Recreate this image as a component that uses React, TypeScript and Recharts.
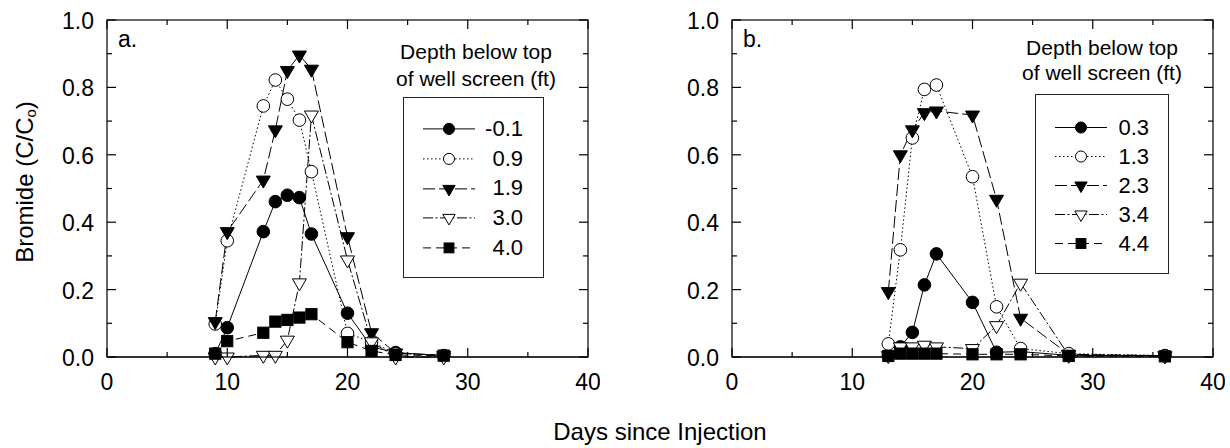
import React from "react";
import { LineChart, Line, XAxis, YAxis, ReferenceLine } from "recharts";

const FONT = '"Liberation Sans", Arial, Helvetica, sans-serif';

// sampling days for each well
const daysA = [9, 10, 13, 14, 15, 16, 17, 20, 22, 24, 28];
const daysB = [13, 14, 15, 16, 17, 20, 22, 24, 28, 36];

// depth below top of well screen (ft)
const depthsA = ["-0.1", "0.9", "1.9", "3.0", "4.0"];
const depthsB = ["0.3", "1.3", "2.3", "3.4", "4.4"];

// bromide C/Co, well a
const a1 = [0.01, 0.087, 0.372, 0.461, 0.48, 0.473, 0.365, 0.13, 0.03, 0.013, 0.004];
const a2 = [0.098, 0.345, 0.745, 0.822, 0.765, 0.703, 0.55, 0.07, 0.045, 0.01, 0.004];
const a3 = [0.105, 0.372, 0.525, 0.674, 0.85, 0.896, 0.854, 0.357, 0.072, 0.012, 0.005];
const a4 = [0.0, 0.0, 0.005, 0.005, 0.05, 0.22, 0.718, 0.288, 0.045, 0.0, 0.0];
const a5 = [0.01, 0.047, 0.072, 0.105, 0.11, 0.117, 0.127, 0.044, 0.018, 0.006, 0.004];

// bromide C/Co, well b
const b1 = [0.005, 0.03, 0.073, 0.214, 0.306, 0.162, 0.014, 0.016, 0.005, 0.004];
const b2 = [0.039, 0.318, 0.65, 0.794, 0.807, 0.535, 0.149, 0.025, 0.01, 0.004];
const b3 = [0.194, 0.6, 0.674, 0.725, 0.73, 0.718, 0.468, 0.115, 0.008, 0.004];
const b4 = [0.004, 0.03, 0.03, 0.035, 0.03, 0.025, 0.093, 0.219, 0.005, 0.003];
const b5 = [0.003, 0.01, 0.01, 0.01, 0.01, 0.008, 0.008, 0.008, 0.003, 0.002];

const xTicks = [0, 5, 10, 15, 20, 25, 30, 35, 40];
const yTicks = [0, 0.1, 0.2, 0.3, 0.4, 0.5, 0.6, 0.7, 0.8, 0.9, 1.0];

const X_MAX = 40;
const Y_MAX = 1;

// plot box geometry shared by the chart margins and the frame overlay
const TOP = 20;
const RIGHT = 12;
const BOTTOM = 90;
const CHART_H = 448;
const PLOT_H = CHART_H - TOP - BOTTOM - 1;
const MAJOR_PX = 9;
const MINOR_PX = 5;

type Mark = "circle" | "openCircle" | "triangle" | "openTriangle" | "square";

const seriesStyles: { mark: Mark; dash?: string }[] = [
  { mark: "circle" },
  { mark: "openCircle", dash: "1.5 2.5" },
  { mark: "triangle", dash: "12 4" },
  { mark: "openTriangle", dash: "10 2.5 2 2.5" },
  { mark: "square", dash: "8 5" },
];

function Marker({ mark, cx, cy, size = 1 }: { mark: Mark; cx: number; cy: number; size?: number }) {
  const open = mark === "openCircle" || mark === "openTriangle";
  const fill = open ? "#fff" : "#000";
  if (mark === "circle" || mark === "openCircle") {
    return <circle cx={cx} cy={cy} r={6.3 * size} fill={fill} stroke="#000" strokeWidth={1} />;
  }
  if (mark === "square") {
    const s = 5.6 * size;
    return <rect x={cx - s} y={cy - s} width={2 * s} height={2 * s} fill="#000" stroke="#000" />;
  }
  const w = 7 * size;
  const h = 12 * size;
  const pts = `${cx - w},${cy - h / 3} ${cx + w},${cy - h / 3} ${cx},${cy + (2 * h) / 3}`;
  return <polygon points={pts} fill={fill} stroke="#000" strokeWidth={1} />;
}

const isMajorX = (v: number) => v % 10 === 0;
const isMajorY = (v: number) => Math.round(v * 10) % 2 === 0;

const BottomLabel = (p: any) => {
  const v = p.payload.value;
  if (!isMajorX(v)) return <g />;
  return (
    <text x={p.x} y={p.y + 33} textAnchor="middle" fontSize={23} fontFamily={FONT} fill="#000">
      {v}
    </text>
  );
};

const LeftLabel = (p: any) => {
  const v = p.payload.value;
  if (!isMajorY(v)) return <g />;
  return (
    <text x={p.x - 13} y={p.y + 9} textAnchor="end" fontSize={23} fontFamily={FONT} fill="#000">
      {v.toFixed(1)}
    </text>
  );
};

// box around the plot with inward ticks on all four sides
function Frame({ left, width }: { left: number; width: number }) {
  const plotW = width - left - RIGHT;
  const px = (v: number) => left + (v / X_MAX) * plotW;
  const py = (v: number) => TOP + PLOT_H - (v / Y_MAX) * PLOT_H;
  const bottom = TOP + PLOT_H;
  const right = left + plotW;
  return (
    <svg
      width={width}
      height={CHART_H}
      style={{ position: "absolute", left: 0, top: 0, pointerEvents: "none" }}
    >
      <rect x={left} y={TOP} width={plotW} height={PLOT_H} fill="none" stroke="#000" strokeWidth={1.2} />
      {xTicks.map((t) => {
        const len = isMajorX(t) ? MAJOR_PX : MINOR_PX;
        return (
          <g key={`x${t}`}>
            <line x1={px(t)} x2={px(t)} y1={bottom} y2={bottom - len} stroke="#000" strokeWidth={1.2} />
            <line x1={px(t)} x2={px(t)} y1={TOP} y2={TOP + len} stroke="#000" strokeWidth={1.2} />
          </g>
        );
      })}
      {yTicks.map((t) => {
        const len = isMajorY(t) ? MAJOR_PX : MINOR_PX;
        return (
          <g key={`y${t}`}>
            <line x1={left} x2={left + len} y1={py(t)} y2={py(t)} stroke="#000" strokeWidth={1.2} />
            <line x1={right} x2={right - len} y1={py(t)} y2={py(t)} stroke="#000" strokeWidth={1.2} />
          </g>
        );
      })}
    </svg>
  );
}

interface BoxLayout {
  left: number;
  top: number;
  lineHeight: number;
  boxLeft: number;
  boxTop: number;
  boxWidth: number;
  boxHeight: number;
  padTop: number;
  rowHeight: number;
  textWidth: number;
}

function DepthLegend({ names, box }: { names: string[]; box: BoxLayout }) {
  return (
    <div style={{ fontFamily: FONT, color: "#000", width: 192 }}>
      <div style={{ textAlign: "center", fontSize: 21, lineHeight: `${box.lineHeight}px` }}>
        Depth below top
        <br />
        of well screen (ft)
      </div>
      <div
        style={{
          marginTop: box.boxTop,
          marginLeft: box.boxLeft,
          width: box.boxWidth,
          height: box.boxHeight,
          border: "1px solid #222",
          boxSizing: "border-box",
          paddingTop: box.padTop,
        }}
      >
        {names.map((name, k) => {
          const st = seriesStyles[k];
          return (
            <div key={name} style={{ display: "flex", alignItems: "center", height: box.rowHeight }}>
              <svg width={75} height={box.rowHeight} style={{ display: "block" }}>
                <line
                  x1={19}
                  x2={71}
                  y1={box.rowHeight / 2}
                  y2={box.rowHeight / 2}
                  stroke="#000"
                  strokeDasharray={st.dash}
                />
                <Marker mark={st.mark} cx={45} cy={box.rowHeight / 2} size={0.88} />
              </svg>
              <span style={{ width: box.textWidth, textAlign: "right", fontSize: 22 }}>{name}</span>
            </div>
          );
        })}
      </div>
    </div>
  );
}

interface PanelProps {
  days: number[];
  depths: string[];
  values: number[][];
  tag: string;
  left: number;
  width: number;
  axisWidth: number;
  box: BoxLayout;
}

function Panel({ days, depths, values, tag, left, width, axisWidth, box }: PanelProps) {
  const rows = days.map((d, i) => {
    const r: Record<string, number> = { day: d };
    values.forEach((v, k) => {
      r[`s${k}`] = v[i];
    });
    return r;
  });

  return (
    <div style={{ position: "absolute", left, top: 0 }}>
      <LineChart
        width={width}
        height={CHART_H}
        data={rows}
        margin={{ top: TOP, right: RIGHT, bottom: BOTTOM, left: 0 }}
      >
        <XAxis
          xAxisId="x"
          dataKey="day"
          type="number"
          domain={[0, X_MAX]}
          ticks={xTicks}
          interval={0}
          height={1}
          tickSize={0}
          tickMargin={0}
          tickLine={false}
          axisLine={false}
          tick={(p: any) => <BottomLabel {...p} />}
        />
        <YAxis
          yAxisId="y"
          type="number"
          domain={[0, Y_MAX]}
          ticks={yTicks}
          interval={0}
          width={axisWidth}
          tickSize={0}
          tickMargin={0}
          tickLine={false}
          axisLine={false}
          tick={(p: any) => <LeftLabel {...p} />}
        />
        <ReferenceLine xAxisId="x" yAxisId="y" y={0} stroke="#000" strokeWidth={1.2} />
        {values.map((_, k) => (
          <Line
            key={depths[k]}
            xAxisId="x"
            yAxisId="y"
            dataKey={`s${k}`}
            name={depths[k]}
            stroke="#000"
            strokeWidth={1}
            strokeDasharray={seriesStyles[k].dash}
            dot={(p: any) => <Marker key={`${k}-${p.index}`} mark={seriesStyles[k].mark} cx={p.cx} cy={p.cy} />}
            isAnimationActive={false}
          />
        ))}
      </LineChart>
      <Frame left={axisWidth} width={width} />
      <div style={{ position: "absolute", left: box.left, top: box.top }}>
        <DepthLegend names={depths} box={box} />
      </div>
      <div
        style={{
          position: "absolute",
          left: axisWidth + 11,
          top: 26,
          fontSize: 23,
          fontFamily: FONT,
          lineHeight: "26px",
        }}
      >
        {tag}
      </div>
    </div>
  );
}

export default function App() {
  return (
    <div
      style={{
        position: "absolute",
        left: 0,
        top: 0,
        width: 1230,
        height: 448,
        background: "#fff",
        overflow: "hidden",
      }}
    >
      <Panel
        days={daysA}
        depths={depthsA}
        values={[a1, a2, a3, a4, a5]}
        tag="a."
        left={0}
        width={600}
        axisWidth={107}
        box={{
          left: 380,
          top: 38,
          lineHeight: 27,
          boxLeft: 23,
          boxTop: 5,
          boxWidth: 141,
          boxHeight: 181,
          padTop: 16,
          rowHeight: 29.8,
          textWidth: 44,
        }}
      />
      <Panel
        days={daysB}
        depths={depthsB}
        values={[b1, b2, b3, b4, b5]}
        tag="b."
        left={600}
        width={625}
        axisWidth={132}
        box={{
          left: 406,
          top: 35,
          lineHeight: 25,
          boxLeft: 29,
          boxTop: 9,
          boxWidth: 134,
          boxHeight: 180,
          padTop: 18,
          rowHeight: 29,
          textWidth: 38,
        }}
      />
      <div
        style={{
          position: "absolute",
          left: 25,
          top: 182,
          transform: "translate(-50%, -50%) rotate(-90deg)",
          whiteSpace: "nowrap",
          fontSize: 24,
          fontFamily: FONT,
        }}
      >
        Bromide (C/C<sub style={{ fontSize: 15, verticalAlign: "-3px" }}>o</sub>)
      </div>
      <div
        style={{
          position: "absolute",
          left: 660,
          top: 432,
          transform: "translate(-50%, -50%)",
          whiteSpace: "nowrap",
          fontSize: 24,
          fontFamily: FONT,
        }}
      >
        Days since Injection
      </div>
    </div>
  );
}
